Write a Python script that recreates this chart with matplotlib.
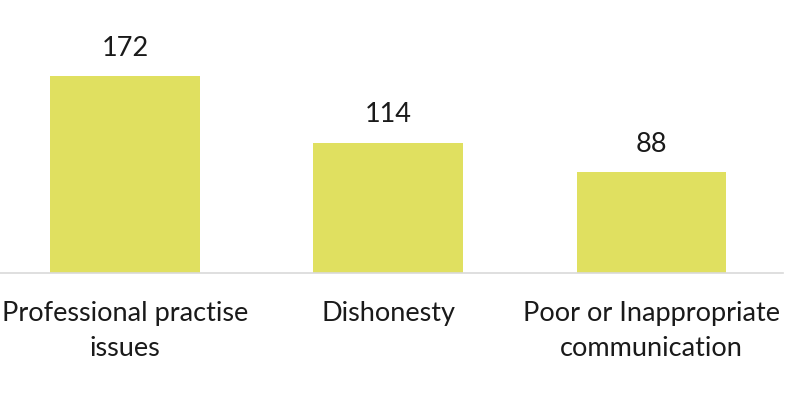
import numpy as np
import matplotlib.pyplot as plt

categories = ["Professional practise\nissues", "Dishonesty", "Poor or Inappropriate\ncommunication"]
counts = [172, 114, 88]

bar_color = "#E0E060"
text_color = "#1A1A1A"

plt.rcParams['font.family'] = ['Lato', 'DejaVu Sans']

fig = plt.figure(figsize=(7.89, 3.94), dpi=100)
ax = fig.add_axes([0.0, 0.307, 0.992, 0.693])

x = np.arange(len(categories))
bars = ax.bar(x, counts, width=0.567, color=bar_color)

# value labels above bars
ax.bar_label(bars, labels=[str(c) for c in counts], padding=11,
             fontsize=19.5, color=text_color)

ax.set_xlim(-0.475, 2.5)
ax.set_ylim(0, 238.7)

ax.set_xticks(x)
ax.set_xticklabels(categories, fontsize=19.5, color=text_color, linespacing=1.5)
ax.tick_params(axis='x', length=0, pad=20)
ax.set_yticks([])

for s in ['top', 'right', 'left']:
    ax.spines[s].set_visible(False)
ax.spines['bottom'].set_color("#D9D9D9")
ax.spines['bottom'].set_linewidth(1.2)

fig.savefig("out.png", dpi=100)
